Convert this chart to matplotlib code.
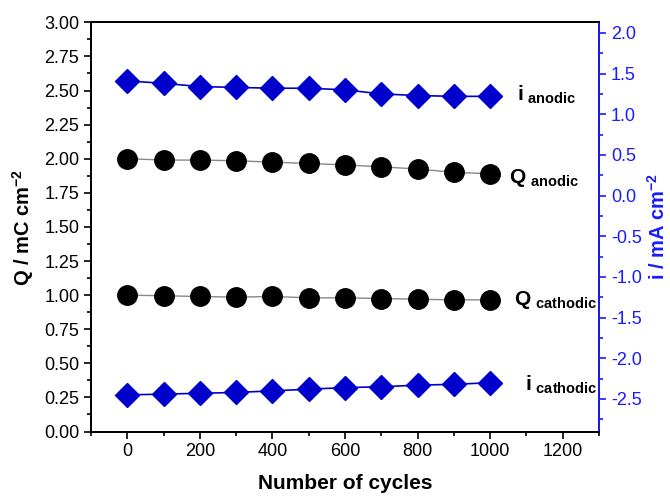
import matplotlib
matplotlib.use('Agg')
import matplotlib.pyplot as plt
from matplotlib.ticker import MultipleLocator

plt.rcParams['font.family'] = ['Liberation Sans', 'DejaVu Sans']
plt.rcParams['mathtext.fontset'] = 'custom'
plt.rcParams['mathtext.rm'] = 'Liberation Sans:bold'
plt.rcParams['mathtext.bf'] = 'Liberation Sans:bold'
plt.rcParams['axes.unicode_minus'] = False

# cycling data
cycles = [0, 100, 200, 300, 400, 500, 600, 700, 800, 900, 1000]
q_anodic = [2.00, 1.99, 1.99, 1.985, 1.975, 1.965, 1.955, 1.94, 1.925, 1.90, 1.89]
q_cathodic = [1.00, 0.995, 0.99, 0.985, 0.99, 0.98, 0.98, 0.975, 0.97, 0.965, 0.965]
i_anodic = [1.41, 1.38, 1.34, 1.33, 1.32, 1.32, 1.30, 1.25, 1.23, 1.22, 1.22]
i_cathodic = [-2.45, -2.44, -2.43, -2.42, -2.40, -2.38, -2.36, -2.35, -2.33, -2.32, -2.30]

blue = '#0000cc'
axblue = '#1a1aff'

fig = plt.figure(figsize=(6.7, 4.96), dpi=100)
ax = fig.add_axes([0.136, 0.13, 0.758, 0.825])
ax2 = ax.twinx()

ax.plot(cycles, q_anodic, '-', color='#888888', lw=1, marker='o', ms=14,
        mfc='black', mec='black', zorder=3)
ax.plot(cycles, q_cathodic, '-', color='#888888', lw=1, marker='o', ms=14,
        mfc='black', mec='black', zorder=3)
ax2.plot(cycles, i_anodic, '-', color=blue, lw=1.2, marker='D', ms=12,
         mfc=blue, mec=blue)
ax2.plot(cycles, i_cathodic, '-', color=blue, lw=1.2, marker='D', ms=12,
         mfc=blue, mec=blue)

# left axis
ax.set_xlim(-100, 1300)
ax.set_ylim(0, 3)
ax.xaxis.set_major_locator(MultipleLocator(200))
ax.xaxis.set_minor_locator(MultipleLocator(100))
ax.yaxis.set_major_locator(MultipleLocator(0.25))
ax.yaxis.set_minor_locator(MultipleLocator(0.125))
ax.yaxis.set_major_formatter(plt.FormatStrFormatter('%.2f'))
ax.tick_params(axis='both', which='major', length=5, width=1.2, labelsize=13, direction='out')
ax.tick_params(axis='both', which='minor', length=3, width=1.2, direction='out')
ax.tick_params(axis='x', top=False)
ax.set_xlabel('Number of cycles', fontsize=15, fontweight='bold', labelpad=10)
ax.set_ylabel('Q / mC cm$^{-2}$', fontsize=14.5, fontweight='bold', labelpad=6)

# right axis
ax2.set_ylim(-2.9, 2.13)
ax2.set_yticks([-2.5, -2.0, -1.5, -1.0, -0.5, 0.0, 0.5, 1.0, 1.5, 2.0])
ax2.yaxis.set_minor_locator(MultipleLocator(0.25))
ax2.yaxis.set_major_formatter(plt.FormatStrFormatter('%.1f'))
ax2.tick_params(axis='y', which='major', length=5, width=1.2, labelsize=13,
                colors=axblue, direction='out')
ax2.tick_params(axis='y', which='minor', length=3, width=1.2, colors=axblue, direction='out')
ax2.set_ylabel('i / mA cm$^{-2}$', fontsize=14.5, fontweight='bold', color=axblue, labelpad=4)

for sp in ax.spines.values():
    sp.set_linewidth(1.3)
for sp in ax2.spines.values():
    sp.set_linewidth(1.3)
ax2.spines['right'].set_color(axblue)

# series labels
labels = [(1074, 2.47, r'$\mathbf{i}_{\ \mathbf{anodic}}$'),
          (1052, 1.86, r'$\mathbf{Q}_{\ \mathbf{anodic}}$'),
          (1066, 0.965, r'$\mathbf{Q}_{\ \mathbf{cathodic}}$'),
          (1095, 0.34, r'$\mathbf{i}_{\ \mathbf{cathodic}}$')]
for x, y, s in labels:
    ax.text(x, y, s, fontsize=15, va='center', ha='left', color='black')

fig.savefig('out.png', dpi=100)
